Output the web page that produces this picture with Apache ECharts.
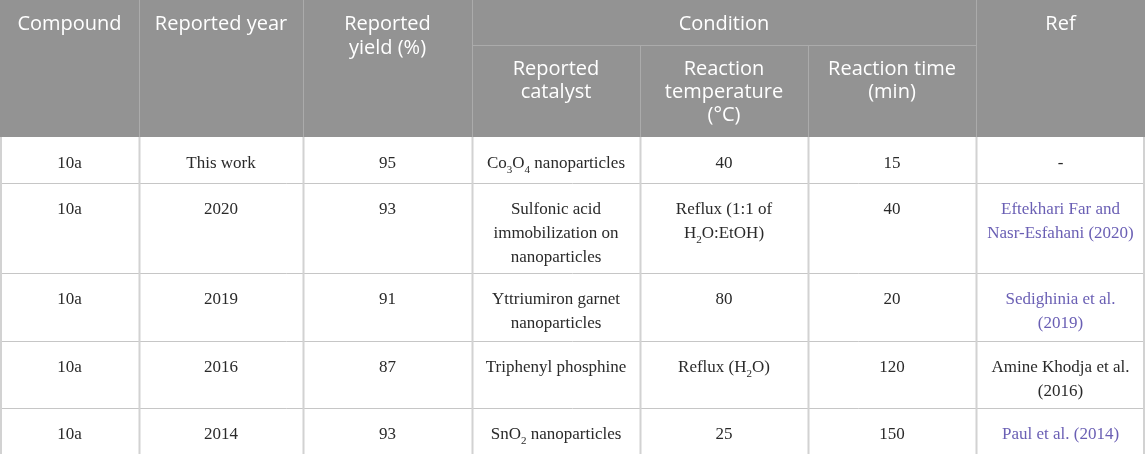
<!DOCTYPE html>
<html>
<head>
<meta charset="utf-8">
<script src="https://cdn.jsdelivr.net/npm/echarts@6/dist/echarts.min.js"></script>
<style>
	html, body { margin: 0; padding: 0; background: #fff; }
	#main { width: 1145px; height: 454px; }
</style>
</head>
<body>
<div id="main"></div>
<script>
	// table content
	var topHeaders = ['Compound', 'Reported year', 'Reported\nyield (%)', 'Condition', 'Ref'];
	var subHeaders = ['Reported\ncatalyst', 'Reaction\ntemperature\n(°C)', 'Reaction time\n(min)'];
	var compounds = ['10a', '10a', '10a', '10a', '10a'];
	var years = ['This work', '2020', '2019', '2016', '2014'];
	var yields = ['95', '93', '91', '87', '93'];
	var catalysts = ['Co{sub|3}O{sub|4} nanoparticles', 'Sulfonic acid\nimmobilization on\nnanoparticles', 'Yttriumiron garnet\nnanoparticles', 'Triphenyl phosphine', 'SnO{sub|2} nanoparticles'];
	var temps = ['40', 'Reflux (1:1 of\nH{sub|2}O:EtOH)', '80', 'Reflux (H{sub|2}O)', '25'];
	var times = ['15', '40', '20', '120', '150'];
	var refs = ['-', 'Eftekhari Far and\nNasr-Esfahani (2020)', 'Sedighinia et al.\n(2019)', 'Amine Khodja et al.\n(2016)', 'Paul et al. (2014)'];
	var refLinked = [false, true, true, false, true];

	// layout
	var colX = [0, 139, 303, 472, 640, 808, 976, 1145];
	var rowY = [137, 183, 273, 341, 408, 454];
	var splitY = 45;

	var myChart = echarts.init(document.getElementById('main'), null, { renderer: 'canvas' });
	var els = [];

	var headFont = '"Open Sans", sans-serif';
	var bodyFont = '"Liberation Serif", serif';

	// header background
	els.push({ type: 'rect', shape: { x: 0, y: 0, width: 1145, height: rowY[0] }, style: { fill: '#939393' } });

	// header grid lines
	var hLine = '#ababab';
	els.push({ type: 'line', shape: { x1: colX[3], y1: splitY + 0.5, x2: colX[6], y2: splitY + 0.5 }, style: { stroke: hLine, lineWidth: 1 } });
	for (var i = 1; i < colX.length - 1; i++) {
		var y1 = (i == 4 || i == 5) ? splitY : 0;
		els.push({ type: 'line', shape: { x1: colX[i] + 0.5, y1: y1, x2: colX[i] + 0.5, y2: rowY[0] }, style: { stroke: hLine, lineWidth: 1 } });
	}

	// header text
	var topCols = [[0, 1], [1, 2], [2, 3], [3, 6], [6, 7]];
	for (var i = 0; i < topHeaders.length; i++) {
		var c = topCols[i];
		els.push({
			type: 'text', x: (colX[c[0]] + colX[c[1]]) / 2, y: 12,
			style: { text: topHeaders[i], fill: '#fff', fontSize: 20, fontFamily: headFont, align: 'center', verticalAlign: 'top', lineHeight: 24 }
		});
	}
	for (var i = 0; i < subHeaders.length; i++) {
		els.push({
			type: 'text', x: (colX[3 + i] + colX[4 + i]) / 2, y: splitY + 13,
			style: { text: subHeaders[i], fill: '#fff', fontSize: 20, fontFamily: headFont, align: 'center', verticalAlign: 'top', lineHeight: 23 }
		});
	}

	// body lines
	var bLine = '#c6c6c6';
	for (var r = 1; r < rowY.length - 1; r++) {
		els.push({ type: 'line', shape: { x1: 0, y1: rowY[r] + 0.5, x2: 1145, y2: rowY[r] + 0.5 }, style: { stroke: bLine, lineWidth: 1 } });
	}
	for (var i = 0; i < colX.length; i++) {
		var xx = i == 0 ? 1 : (i == colX.length - 1 ? 1144 : colX[i] + 0.5);
		els.push({ type: 'line', shape: { x1: xx, y1: rowY[0], x2: xx, y2: 454 }, style: { stroke: '#d2d2d2', lineWidth: 2 } });
	}

	// body text
	var columns = [compounds, years, yields, catalysts, temps, times, refs];
	for (var r = 0; r < compounds.length; r++) {
		for (var c = 0; c < columns.length; c++) {
			var color = (c == 6 && refLinked[r]) ? '#6a5fb4' : '#2a2a2a';
			els.push({
				type: 'text', x: (colX[c] + colX[c + 1]) / 2, y: rowY[r] + 15,
				style: {
					text: columns[c][r], fill: color, fontSize: 17, fontFamily: bodyFont,
					align: 'center', verticalAlign: 'top', lineHeight: 24,
					rich: {
						sub: { fontSize: 11, lineHeight: 14, verticalAlign: 'bottom', fill: color, fontFamily: bodyFont }
					}
				}
			});
		}
	}

	option = {
		animation: false,
		graphic: { elements: els }
	};
	myChart.setOption(option);
</script>
</body>
</html>
